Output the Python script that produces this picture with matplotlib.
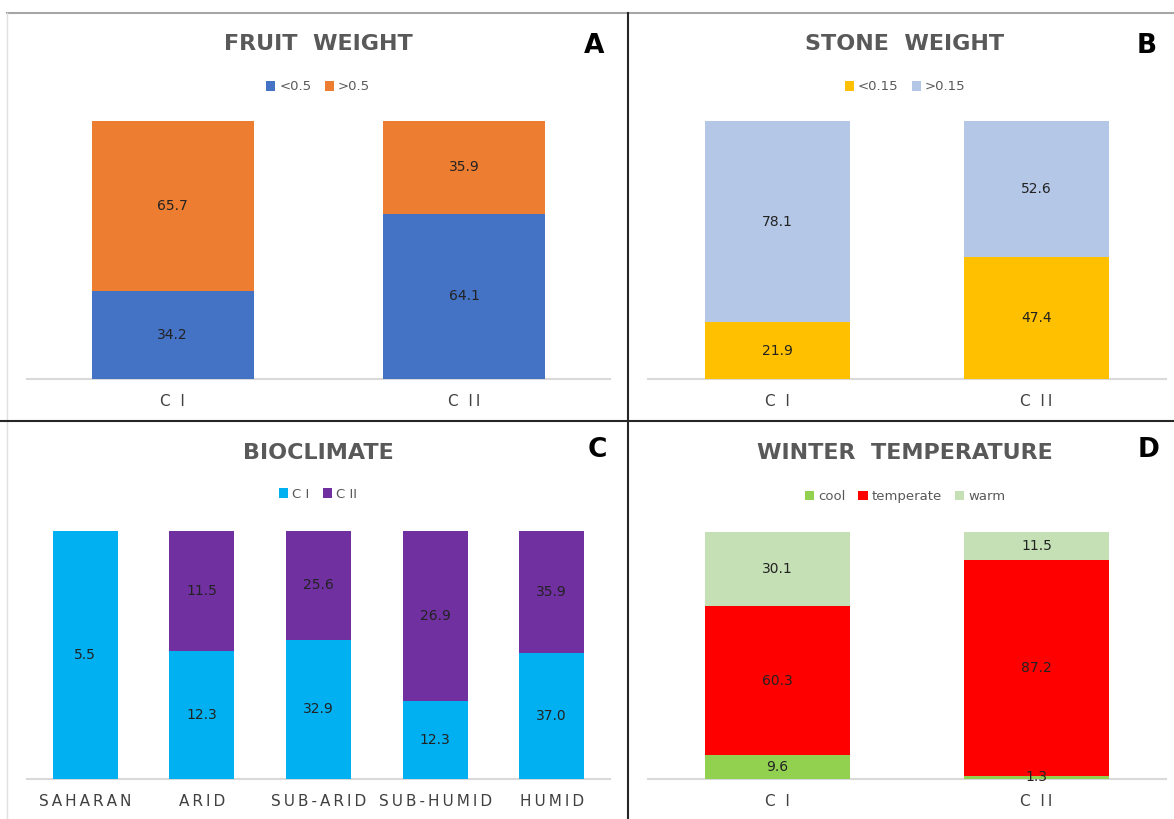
import numpy as np
import matplotlib
matplotlib.use('Agg')
from matplotlib import pyplot as plt
from matplotlib.lines import Line2D

plt.rcParams['font.family'] = ['DejaVu Sans']

W, H = 1174, 819

# data
groups_ab = ['C  I', 'C  I\u2009I']
fruit_lt = [34.2, 64.1]
fruit_gt = [65.7, 35.9]
stone_lt = [21.9, 47.4]
stone_gt = [78.1, 52.6]

bioclimates = ['SAHARAN', 'ARID', 'SUB-ARID', 'SUB-HUMID', 'HUMID']
bio_c1 = [5.5, 12.3, 32.9, 12.3, 37.0]
bio_c2 = [0.0, 11.5, 25.6, 26.9, 35.9]

winter_cool = [9.6, 1.3]
winter_temperate = [60.3, 87.2]
winter_warm = [30.1, 11.5]

fig = plt.figure(figsize=(W / 100, H / 100), dpi=100)
fig.patch.set_facecolor('white')


def px_axes(x0, x1, ytop, ybot):
    return fig.add_axes([x0 / W, 1 - ybot / H, (x1 - x0) / W, (ybot - ytop) / H])


def spaced(s):
    return '\u2009'.join(s)


def stacked(ax, cats, series, colors, names, pct=False, width=0.557):
    x = np.arange(len(cats))
    data = np.array(series, dtype=float)
    if pct:
        plot = data / data.sum(axis=0) * 100
    else:
        plot = data
    bottom = np.zeros(len(cats))
    handles = []
    for vals, pv, c, n in zip(data, plot, colors, names):
        b = ax.bar(x, pv, width, bottom=bottom, color=c, label=n, zorder=2)
        handles.append(b)
        for xi, v, p, b0 in zip(x, vals, pv, bottom):
            if v > 0:
                ax.text(xi, b0 + p / 2, f'{v:.1f}', ha='center', va='center',
                        fontsize=10, color='#222222', zorder=3)
        bottom += pv
    ax.set_xlim(-0.5, len(cats) - 0.5)
    ax.set_ylim(0, 100)
    ax.set_xticks(x)
    ax.set_xticklabels(cats, fontsize=11, color='#404040')
    ax.tick_params(axis='x', length=0, pad=11)
    ax.set_yticks([])
    for s in ['top', 'right', 'left']:
        ax.spines[s].set_visible(False)
    ax.spines['bottom'].set_color('#d9d9d9')
    ax.spines['bottom'].set_linewidth(1.5)
    ax.spines['bottom'].set_zorder(1)
    return handles


def decorate(handles, names, title, letter, cx, ty, ly, lx, lty):
    fig.text(cx / W, 1 - ty / H, title, ha='center', va='center', fontsize=16,
             fontweight='bold', color='#595959')
    fig.text(lx / W, 1 - lty / H, letter, ha='center', va='center', fontsize=19,
             fontweight='bold', color='black')
    fig.legend(handles, names, loc='center', bbox_to_anchor=(cx / W, 1 - ly / H),
               ncol=len(names), frameon=False, fontsize=9.5, labelcolor='#595959',
               handlelength=0.7, handleheight=0.7, handletextpad=0.3, columnspacing=1.0)


# A
axA = px_axes(27, 610, 121, 379)
names = ['<0.5', '>0.5']
h = stacked(axA, groups_ab, [fruit_lt, fruit_gt], ['#4472C4', '#ED7D31'], names)
decorate(h, names, 'FRUIT  WEIGHT', 'A', 318, 44, 87, 594, 46)

# B
axB = px_axes(648, 1166, 121, 379)
names = ['<0.15', '>0.15']
h = stacked(axB, groups_ab, [stone_lt, stone_gt], ['#FFC000', '#B4C7E7'], names)
decorate(h, names, 'STONE  WEIGHT', 'B', 905, 44, 87, 1147, 46)

# C
axC = px_axes(27, 610, 531, 779)
names = ['C I', 'C II']
h = stacked(axC, [spaced(b) for b in bioclimates], [bio_c1, bio_c2],
            ['#00B0F0', '#7030A0'], names, pct=True)
decorate(h, names, 'BIOCLIMATE', 'C', 318, 453, 494, 597, 450)

# D
axD = px_axes(648, 1166, 532, 779)
names = ['cool', 'temperate', 'warm']
h = stacked(axD, groups_ab, [winter_cool, winter_temperate, winter_warm],
            ['#92D050', '#FF0000', '#C5E0B4'], names)
decorate(h, names, 'WINTER  TEMPERATURE', 'D', 905, 453, 497, 1149, 450)

# panel frame lines
fig.add_artist(Line2D([7 / W, 1], [1 - 13 / H, 1 - 13 / H], color='#a6a6a6', lw=1.5))
fig.add_artist(Line2D([7 / W, 7 / W], [0, 1 - 13 / H], color='#e0e0e0', lw=1))
fig.add_artist(Line2D([628 / W, 628 / W], [0, 1 - 13 / H], color='#262626', lw=1.5))
fig.add_artist(Line2D([0, 1], [1 - 421 / H, 1 - 421 / H], color='#262626', lw=1.5))

fig.savefig('out.png', dpi=100, facecolor='white')
